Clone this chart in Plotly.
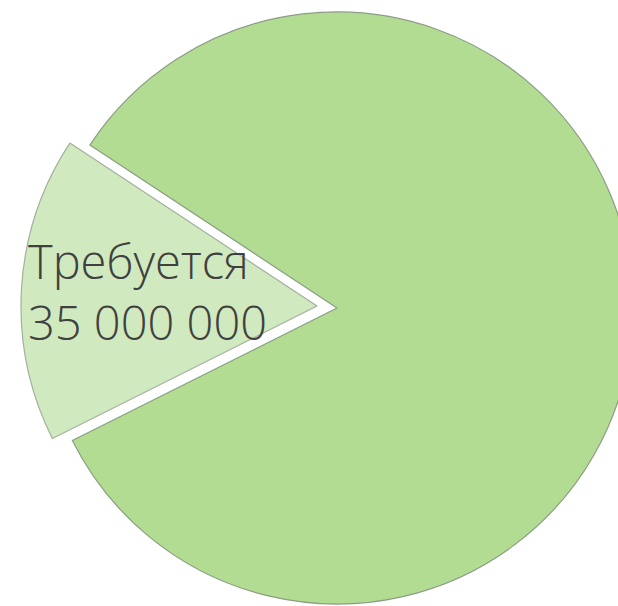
import plotly.graph_objects as go

# Data
labels = ["Требуется", "Собрано"]
values = [35000000, 175000000]
colors = ["#d0e9bf", "#b2dc92"]

W, H = 676, 640
PLOT_H = 614
R = 296  # pie radius in px

def fmt(v):
    return f"{v:,}".replace(",", " ")

def dom(cx, cy):
    # domain (paper fractions) of a square box of side 2R centred at pixel (cx, cy)
    return dict(
        x=[(cx - R) / W, (cx + R) / W],
        y=[1 - (cy + R) / PLOT_H, 1 - (cy - R) / PLOT_H],
    )

fig = go.Figure()

# main (large) slice; the small one is left empty in this trace
fig.add_trace(go.Pie(
    labels=labels, values=values, sort=False, direction="clockwise",
    rotation=243.4, textinfo="none", hoverinfo="label+value",
    marker=dict(colors=["rgba(0,0,0,0)", colors[1]],
                line=dict(color=["rgba(0,0,0,0)", "#8c9c84"], width=1.2)),
    domain=dom(337, 308), showlegend=False,
))
# exploded small slice, shifted outwards
fig.add_trace(go.Pie(
    labels=labels, values=values, sort=False, direction="clockwise",
    rotation=243.4, textinfo="none", hoverinfo="label+value",
    marker=dict(colors=[colors[0], "rgba(0,0,0,0)"],
                line=dict(color=["#a3b09c", "rgba(0,0,0,0)"], width=1.2)),
    domain=dom(317, 306), showlegend=False,
))

fig.add_annotation(
    text=labels[0] + "<br>" + fmt(values[0]),
    xref="paper", yref="paper", x=26 / W, y=1 - 291 / PLOT_H,
    xanchor="left", yanchor="middle", align="left", showarrow=False,
    font=dict(family="Open Sans", size=47, color="#404040", weight=300),
)

fig.update_layout(
    width=W, height=H,
    margin=dict(l=0, r=0, t=0, b=H - PLOT_H),
    paper_bgcolor="white", plot_bgcolor="white",
)

fig.write_html(
    "out.html",
    post_script="document.documentElement.style.overflow='hidden';document.body.style.overflow='hidden';document.body.style.margin='0';",
)
